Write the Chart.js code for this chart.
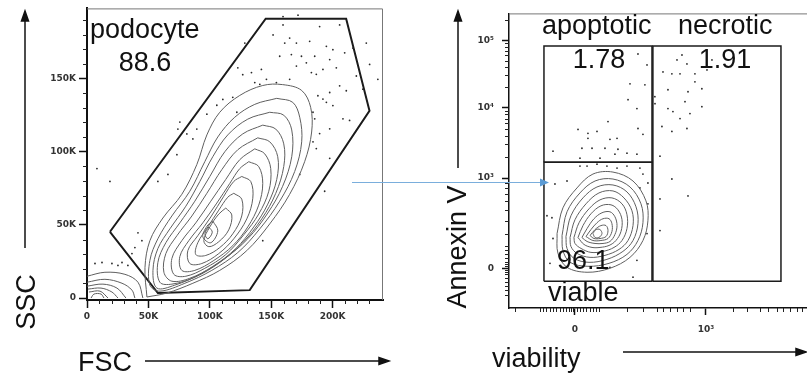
<!DOCTYPE html>
<html>
<head>
<meta charset="utf-8">
<script src="https://cdn.jsdelivr.net/npm/chart.js@4.4.0/dist/chart.umd.min.js"></script>
<style>
  html, body { margin: 0; padding: 0; background: #fff; overflow: hidden; }
  #fig { position: relative; width: 807px; height: 383px; overflow: hidden; font-family: "Liberation Sans", Arial, sans-serif; color: #111; }
  .box { position: absolute; }
  .lbl { position: absolute; font-size: 27px; line-height: 27px; white-space: nowrap; }
  .ctr { text-align: center; width: 90px; }
  .rot { transform: translate(-50%, -50%) rotate(-90deg); }
</style>
</head>
<body>
<div id="fig">
  <div class="box" style="left:0;top:0"><canvas id="scatterGate" width="395" height="330"></canvas></div>
  <div class="box" style="left:400px;top:0"><canvas id="annexinPlot" width="420" height="340"></canvas></div>

  <svg width="807" height="383" style="position:absolute;left:0;top:0">
    <g stroke="#111" stroke-width="1.5" fill="#111">
      <line x1="25" y1="248" x2="25" y2="20"/><polygon points="25,11 21.5,21 28.5,21"/>
      <line x1="145" y1="361" x2="380" y2="361"/><polygon points="389,361 379,357.5 379,364.5"/>
      <line x1="458" y1="168" x2="458" y2="20"/><polygon points="458,11 454.5,21 461.5,21"/>
      <line x1="623" y1="352" x2="797" y2="352"/><polygon points="806,352 796,348.5 796,355.5"/>
    </g>
    <line x1="352" y1="182.5" x2="541" y2="182.5" stroke="#7aaedc" stroke-width="1"/>
    <polygon points="549,182.5 540,178.5 540,186.5" fill="#5b9bd5"/>
  </svg>

  <div class="lbl" style="left:90px;top:16px">podocyte</div>
  <div class="lbl ctr" style="left:100px;top:49px">88.6</div>
  <div class="lbl" style="left:78px;top:349px">FSC</div>
  <div class="lbl rot" style="left:26px;top:302px">SSC</div>

  <div class="lbl" style="left:542px;top:12px">apoptotic</div>
  <div class="lbl ctr" style="left:554px;top:46px">1.78</div>
  <div class="lbl" style="left:678px;top:12px">necrotic</div>
  <div class="lbl ctr" style="left:680px;top:46px">1.91</div>
  <div class="lbl" style="left:557px;top:247px">96.1</div>
  <div class="lbl" style="left:548px;top:279px">viable</div>
  <div class="lbl" style="left:492px;top:345px">viability</div>
  <div class="lbl rot" style="left:457px;top:247px">Annexin V</div>
</div>

<script>
// ---- FSC / SSC panel (values in K) ----
const fscTicks = [0, 50, 100, 150, 200];
const fscLabels = ['0', '50K', '100K', '150K', '200K'];
const fscMinor = [10, 20, 30, 40, 60, 70, 80, 90, 110, 120, 130, 140, 160, 170, 180, 190, 210, 220, 230];
const sscTicks = [0, 50, 100, 150];
const sscLabels = ['0', '50K', '100K', '150K'];
const sscMinor = [10, 20, 30, 40, 60, 70, 80, 90, 110, 120, 130, 140, 160, 170, 180, 190];

const podocyteGate = [[18.7, 45.3], [145.5, 191], [211, 191], [230, 128], [132.5, 5.4], [57.7, 3.4], [18.7, 45.3]];

const podocyteContours = [
  [[48.8,0.7],[47.2,20.9],[51.2,39.2],[61.8,54.7],[77.2,70.9],[89.4,91.2],[97.6,111.5],[108.1,127],[124.4,138.5],[143.1,145.3],[159.3,145.9],[174.8,141.9],[182.1,130.4],[182.9,113.5],[177.2,93.2],[165,70.9],[148.8,50.7],[130.1,32.4],[108.1,18.9],[86.2,10.1],[65,3.4]],
  [[154.5,136.5],[167.5,133.8],[173.2,123.6],[174.8,106.8],[169.1,86.5],[156.9,66.2],[140.7,47.3],[122.8,31.1],[101.6,18.9],[79.7,10.1],[59.3,4.7],[51.2,8.8],[51.2,25.7],[57.7,40.5],[69.1,56.1],[83.7,73],[95.9,93.2],[106.5,110.1],[120.3,123.6],[136.6,132.4]],
  [[148.8,127],[160.2,125],[166.7,114.9],[166.7,96.6],[159.3,76.4],[147.2,58.1],[130.9,40.5],[112.2,27],[91.9,16.2],[71.5,8.8],[56.9,6.8],[53.7,18.9],[57.7,33.8],[67.5,47.3],[80.5,62.8],[91.9,79.7],[102.4,96.6],[114.6,111.5],[130.9,122.3]],
  [[143.1,118.2],[153.7,115.5],[160.2,105.4],[160.2,89.9],[153.7,71.6],[142.3,54.1],[126.8,37.8],[108.1,24.3],[87.8,14.2],[69.1,9.5],[59.3,10.8],[57.7,24.3],[64.2,37.8],[75.6,51.4],[87.8,66.2],[100,83.1],[112.2,100],[126.8,112.2]],
  [[139,109.5],[148.8,106.8],[155.3,96.6],[154.5,81.1],[147.2,64.2],[135.8,48.6],[121.1,33.8],[102.4,21.6],[83.7,13.5],[69.1,11.5],[62.6,17.6],[64.2,30.4],[73.2,42.6],[85.4,56.1],[97.6,71.6],[109.8,87.8],[122.8,101.4]],
  [[136.6,102],[144.7,98.6],[149.6,88.5],[148,73],[139.8,57.4],[127.6,43.2],[113,29.7],[95.9,20.3],[80.5,14.9],[70.7,16.2],[69.1,27],[77.2,39.2],[88.6,51.4],[100.8,66.2],[113,81.1],[124.4,94.6]],
  [[131.7,93.2],[139.8,89.9],[143.1,78.4],[139.8,63.5],[130.9,48.6],[118.7,35.8],[103.3,25.7],[87.8,18.9],[77.2,18.9],[75.6,28.4],[82.9,39.2],[94.3,51.4],[105.7,64.9],[116.3,78.4],[124.4,88.5]],
  [[126,83.1],[133.3,79.7],[135,68.2],[130.1,54.1],[119.5,40.5],[107.3,30.4],[93.5,23.6],[83.7,23.6],[82.1,32.4],[90.2,42.6],[100.8,55.4],[111.4,69.6],[119.5,79.7]],
  [[119.5,71.6],[126,67.6],[126,56.1],[118.7,43.9],[108.1,34.5],[96.7,29.1],[88.6,29.7],[90.2,37.8],[98.4,48.6],[107.3,60.1],[114.6,68.9]],
  [[113,61.5],[117.9,56.8],[115.4,46.6],[107.3,38.5],[99.2,35.1],[95.1,39.2],[100,48.6],[107.3,57.4]],
  [[102.4,52.7],[106.5,45.9],[100.8,37.8],[94.3,41.9],[97.6,49]],
  [[99.2,48.6],[102,45],[98.4,40.5],[96,44]]
];

const debrisContours = [
  [[0,14.9],[14.6,17.6],[30.9,16.2],[41.5,10.8],[45.5,0]],
  [[0,10.8],[14.6,12.8],[28.5,10.1],[36.6,5.4],[39,0]],
  [[0,8.1],[13,9.5],[24.4,6.8],[31.7,0]],
  [[0.8,6.1],[11.4,6.8],[20.3,4.1],[25.2,0]],
  [[1.6,4.1],[10.6,4.7],[17.1,0]],
  [[3.3,0],[5.7,2.7],[11.4,2.7],[13.8,0]]
];

const podocyteEvents = [
  [159.6,186.7],[171.8,193.4],[189.4,185.6],[205.7,186.7],[161,174.3],[165,177.7],[170.5,174.3],[181.3,175.5],
  [185.4,165.3],[194.9,172.1],[200.2,169.8],[209.8,167.6],[216.5,170.9],[227.4,174.3],[156.9,165.3],[166.4,166.4],
  [174.6,165.3],[178.6,160.8],[170.5,158.6],[192.1,156.3],[197.6,163],[203,157.4],[182.7,154.1],[186.7,152.9],
  [165,149.5],[146.1,149.5],[142,156.3],[140.7,146.1],[154.2,147.3],[219.3,151.8],[205.7,145.1],[211.1,141.7],
  [197.6,140.5],[192.1,136],[188,138.3],[194.9,133.8],[200.2,131.6],[184,127],[185.4,122.5],[208.4,122.5],
  [213.8,121.4],[197.6,115.7],[189.4,112.4],[184,106.8],[186.7,102.2],[197.6,95.5],[230.1,159.7],[236.8,149.5],
  [224.6,142.8],[133.9,154.1],[136.6,147.3],[128.5,174.3],[151.5,179.9],[159.6,192.4],
  [75.6,120.3],[74,115.5],[81.3,112.2],[89.4,115.5],[86.2,108.8],[97.6,125.7],[105.7,131.8],[118.7,137.2],
  [110.6,135.8],[122,127],[126.8,152.7],[122.8,157.4],[73.2,98],[65.9,84.5],[57.7,79.7],[8.1,88.5],[18.7,79.7],
  [41.5,44.6],[44.7,39.2],[39,34.5],[36.6,30.4],[12.2,24.3],[20.3,23.6],[28.5,24.3],[33.3,22.3],[25.2,22.3],
  [6.5,23.6],[173.2,84.5],[193.5,73],[143.1,39.2]
];

// ---- viability / Annexin V panel (display units: 0 = 0, 1 = 10^3 ...) ----
const viabilityTicks = [0, 1];
const viabilityLabels = ['0', '10\u00b3'];
const viabilityMinor = [-0.458,-0.267,-0.244,-0.221,-0.191,-0.168,-0.145,-0.115,-0.092,-0.069,-0.046,-0.031,-0.015,0.015,0.038,0.061,0.084,0.115,0.137,0.160,0.183,0.397,0.519,0.626,0.672,0.725,0.779,0.824,0.878,1.206,1.313,1.412,1.473,1.542,1.588,1.641,1.695,1.733,1.771];
const annexinTicks = [0, 1, 1.78, 2.527];
const annexinLabels = ['0', '10\u00b3', '10\u2074', '10\u2075'];
const annexinMinor = [-0.297,-0.242,-0.198,-0.154,-0.110,-0.066,-0.044,-0.022,0.022,0.044,0.066,0.110,0.154,0.198,0.242,0.385,0.527,0.648,0.747,0.824,0.890,0.945,1.235,1.372,1.470,1.545,1.607,1.659,1.704,1.744,2.005,2.136,2.230,2.302,2.361,2.411,2.455,2.493,2.752];

const apoptoticGate = [[-0.237,1.176],[-0.237,2.462],[0.588,2.462],[0.588,1.176],[-0.237,1.176]];
const viableGate = [[-0.237,-0.143],[-0.237,1.176],[0.588,1.176],[0.588,-0.143],[-0.237,-0.143]];
const necroticGate = [[0.595,-0.143],[0.595,2.462],[1.573,2.462],[1.573,-0.143],[0.595,-0.143]];

const viableContours = [
  [[-0.137,0.385],[-0.092,0.670],[0.015,0.890],[0.137,1.044],[0.290,1.066],[0.443,0.967],[0.542,0.747],[0.557,0.527],[0.519,0.308],[0.420,0.121],[0.267,0],[0.092,-0.044],[-0.061,0.011],[-0.130,0.165]],
  [[-0.099,0.363],[-0.061,0.626],[0.038,0.835],[0.153,0.967],[0.290,0.989],[0.420,0.901],[0.504,0.714],[0.519,0.505],[0.481,0.308],[0.397,0.154],[0.260,0.055],[0.099,0.022],[-0.038,0.066],[-0.092,0.198]],
  [[-0.069,0.352],[-0.031,0.582],[0.061,0.780],[0.168,0.901],[0.290,0.923],[0.397,0.846],[0.466,0.681],[0.481,0.495],[0.443,0.308],[0.366,0.187],[0.244,0.099],[0.107,0.066],[-0.008,0.110],[-0.061,0.220]],
  [[-0.038,0.341],[0,0.538],[0.084,0.714],[0.183,0.835],[0.290,0.857],[0.374,0.780],[0.435,0.637],[0.443,0.473],[0.405,0.308],[0.336,0.209],[0.229,0.143],[0.115,0.121],[0.015,0.165],[-0.031,0.242]],
  [[-0.008,0.341],[0.031,0.505],[0.107,0.659],[0.191,0.758],[0.282,0.780],[0.359,0.714],[0.397,0.593],[0.397,0.440],[0.359,0.308],[0.298,0.231],[0.214,0.187],[0.122,0.176],[0.046,0.220],[0,0.275]],
  [[0.023,0.341],[0.061,0.473],[0.122,0.604],[0.198,0.692],[0.275,0.703],[0.328,0.648],[0.359,0.538],[0.351,0.407],[0.313,0.308],[0.260,0.253],[0.191,0.231],[0.130,0.231],[0.069,0.264]],
  [[0.053,0.341],[0.092,0.440],[0.145,0.549],[0.206,0.615],[0.267,0.626],[0.305,0.571],[0.321,0.473],[0.305,0.374],[0.267,0.297],[0.214,0.275],[0.153,0.275],[0.092,0.297]],
  [[0.084,0.352],[0.122,0.429],[0.168,0.505],[0.214,0.549],[0.260,0.549],[0.282,0.495],[0.282,0.407],[0.252,0.330],[0.198,0.308],[0.137,0.308]],
  [[0.115,0.363],[0.153,0.429],[0.198,0.473],[0.237,0.473],[0.252,0.418],[0.237,0.352],[0.191,0.330],[0.145,0.330]],
  [[0.137,0.385],[0.160,0.429],[0.191,0.429],[0.206,0.385],[0.183,0.341],[0.153,0.341]]
];

const annexinEvents = [
  [0.481,2.374],[0.550,2.253],[0.420,2.044],[0.534,2.033],[0.405,1.868],[0.473,1.769],[0.252,1.626],[0.023,1.538],
  [0.099,1.495],[0.168,1.516],[0.099,1.440],[0.267,1.429],[0.321,1.440],[0.481,1.549],[0.519,1.484],[0.229,1.330],
  [0.328,1.319],[0.305,1.264],[0.397,1.275],[-0.168,1.297],[0.038,1.220],[0.191,1.220],[0.473,1.264],[0.130,1.330],[0.053,1.330],
  [0.779,2.308],[0.855,2.264],[0.817,2.363],[0.672,2.176],[0.740,2.154],[0.802,2.154],[0.916,2.154],[1.008,2.198],
  [1.046,2.308],[0.916,2.066],[0.710,1.978],[0.863,1.956],[0.969,1.989],[0.610,1.901],[0.840,1.846],[0.611,1.824],
  [0.710,1.769],[0.748,1.736],[0.969,1.791],[0.878,1.714],[0.802,1.659],[0.855,1.549],[0.664,1.571],[0.740,1.516],
  [0.649,1.242],[0.740,0.989],[0.863,0.802],[0.649,0.769],[0.649,0.418],
  [-0.153,0.934],[-0.061,0.967],[0.038,1.132],[0.092,1.132],[0.168,1.154],[0.244,1.132],[0.321,1.110],[0.397,1.132],
  [0.496,1.110],[0.519,1.044],[0.557,0.945],[0.496,0.890],[-0.176,0.560],[-0.168,0.330],[-0.191,0.055],[0.473,0.088],
  [0.443,-0.099],[0.267,0.011],[0.557,0.714],[0.550,0.385],[-0.214,0.582]
];

// ---------- helpers ----------
const pts = arr => arr.map(p => ({ x: p[0], y: p[1] }));
const closed = arr => pts(arr.concat([arr[0]]));

const contourSet = (list, close, color) => list.map(c => ({
  data: close ? closed(c) : pts(c),
  showLine: true, pointRadius: 0, borderColor: color, borderWidth: 1, tension: 0.35, fill: false
}));
const gateSet = (arr, width) => ({
  data: pts(arr), showLine: true, pointRadius: 0, borderColor: '#1b1b1b', borderWidth: width, tension: 0
});
const eventSet = arr => ({
  data: pts(arr), showLine: false, pointRadius: 0.9, pointBorderWidth: 0, pointBackgroundColor: '#2a2a2a'
});

// frame on top/right of the plot and minor ticks on the axes
const frame = {
  id: 'frame',
  afterDraw(chart, args, opts) {
    const { ctx, chartArea: a, scales } = chart;
    ctx.save();
    ctx.strokeStyle = '#777';
    ctx.lineWidth = 1;
    ctx.beginPath();
    ctx.moveTo(a.left, a.top + 0.5);
    ctx.lineTo(a.right - 0.5, a.top + 0.5);
    ctx.lineTo(a.right - 0.5, a.bottom);
    ctx.stroke();
    ctx.strokeStyle = '#222';
    ctx.beginPath();
    opts.minorX.forEach(v => {
      const p = Math.round(scales.x.getPixelForValue(v)) + 0.5;
      ctx.moveTo(p, a.bottom); ctx.lineTo(p, a.bottom + opts.len);
    });
    opts.minorY.forEach(v => {
      const p = Math.round(scales.y.getPixelForValue(v)) + 0.5;
      ctx.moveTo(a.left - opts.len, p); ctx.lineTo(a.left, p);
    });
    ctx.stroke();
    ctx.restore();
  }
};

const tickFont = { family: 'DejaVu Sans', size: 9, weight: 'bold' };

function axis(ticks, labels, min, max, fit, borderWidth) {
  return {
    type: 'linear', min: min, max: max,
    afterFit: fit,
    afterBuildTicks: s => { s.ticks = ticks.map(v => ({ value: v })); },
    ticks: { callback: (v, i) => labels[i], font: tickFont, color: '#333', padding: 3, autoSkip: false, maxRotation: 0 },
    grid: { drawOnChartArea: false, tickLength: 8, tickColor: '#111', tickWidth: 1.5 },
    border: { color: '#111', width: borderWidth }
  };
}

const baseOptions = (padding) => ({
  responsive: false, animation: false, events: [],
  layout: { padding: padding },
  plugins: { legend: { display: false }, tooltip: { enabled: false } }
});

// ---------- FSC / SSC ----------
const leftOpts = baseOptions({ left: 0, top: 5, right: 12, bottom: 0 });
leftOpts.plugins.frame = { minorX: fscMinor, minorY: sscMinor, len: 4 };
leftOpts.scales = {
  x: axis(fscTicks, fscLabels, 0, 241, s => { s.height = 30; }, 2),
  y: axis(sscTicks, sscLabels, -1.35, 198, s => { s.width = 87; }, 2)
};

new Chart(document.getElementById('scatterGate'), {
  type: 'scatter',
  data: {
    datasets: [
      ...contourSet(podocyteContours, true, '#5f5f5f'),
      ...contourSet(debrisContours, false, '#5f5f5f'),
      eventSet(podocyteEvents),
      gateSet(podocyteGate, 2)
    ]
  },
  options: leftOpts,
  plugins: [frame]
});

// ---------- viability / Annexin V ----------
const rightOpts = baseOptions({ left: 0, top: 11, right: 8, bottom: 0 });
rightOpts.plugins.frame = { minorX: viabilityMinor, minorY: annexinMinor, len: 4 };
rightOpts.scales = {
  x: axis(viabilityTicks, viabilityLabels, -0.504, 1.81, s => { s.height = 32; }, 1.5),
  y: axis(annexinTicks, annexinLabels, -0.44, 2.824, s => { s.width = 109; }, 1.5)
};
rightOpts.scales.x.ticks.padding = 9;
rightOpts.scales.x.grid.tickLength = 7;
rightOpts.scales.y.grid.tickLength = 7;
rightOpts.scales.y.ticks.padding = 8;

new Chart(document.getElementById('annexinPlot'), {
  type: 'scatter',
  data: {
    datasets: [
      ...contourSet(viableContours, true, '#5f5f5f'),
      eventSet(annexinEvents),
      gateSet(apoptoticGate, 1.5),
      gateSet(viableGate, 1.5),
      gateSet(necroticGate, 1.5)
    ]
  },
  options: rightOpts,
  plugins: [frame]
});
</script>
</body>
</html>
